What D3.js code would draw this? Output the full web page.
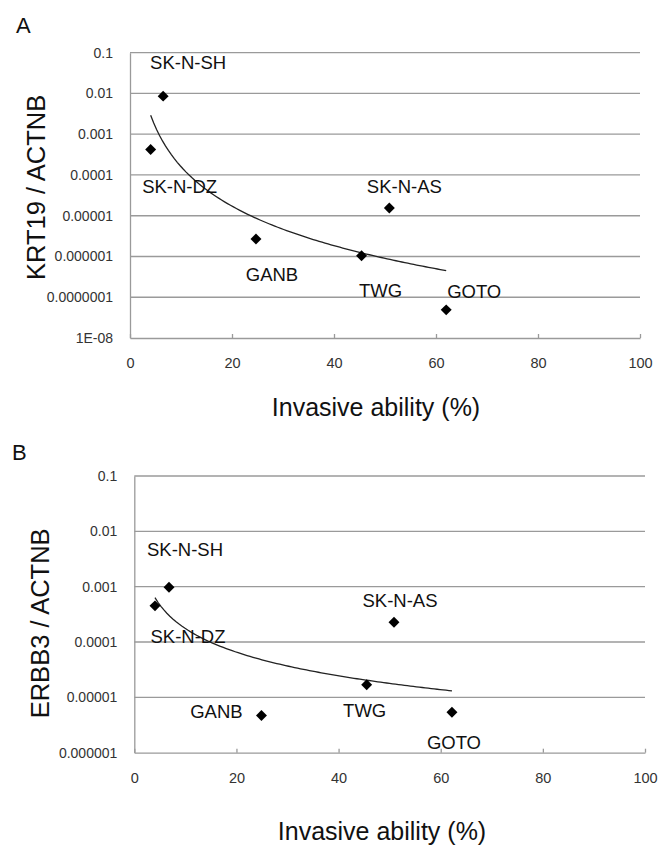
<!DOCTYPE html>
<html>
<head>
<meta charset="utf-8">
<script src="https://cdn.jsdelivr.net/npm/d3@7"></script>
<style>
  body { margin: 0; background: #fff; }
  text { font-family: Arial, "Liberation Sans", sans-serif; }
</style>
</head>
<body>
<div class="canvas"></div>
<script>
// data
const cellLines = ['SK-N-SH', 'SK-N-DZ', 'GANB', 'SK-N-AS', 'TWG', 'GOTO'];
const invasionA = [6.5, 4.05, 24.7, 50.85, 45.4, 62.0];
const krt19 = [0.0086, 0.00042, 0.0000027, 0.0000155, 0.00000104, 0.000000049];
const invasionB = [6.8, 4.05, 24.9, 50.85, 45.5, 62.2];
const erbb3 = [0.00098, 0.00045, 0.0000047, 0.000227, 0.0000169, 0.0000054];

const xTicks = [0, 20, 40, 60, 80, 100];
const yTicksA = [0.1, 0.01, 0.001, 0.0001, 0.00001, 0.000001, 0.0000001, 0.00000001];
const yTickLabelsA = ['0.1', '0.01', '0.001', '0.0001', '0.00001', '0.000001', '0.0000001', '1E-08'];
const yTicksB = [0.1, 0.01, 0.001, 0.0001, 0.00001, 0.000001];
const yTickLabelsB = ['0.1', '0.01', '0.001', '0.0001', '0.00001', '0.000001'];

// label offsets (px) from each marker, per panel
const labelOffsetA = [[25, -27], [29, 43], [16, 42], [15, -15], [19, 41], [28, -12]];
const labelOffsetB = [[16, -31], [33, 37], [-45, 2], [6, -15], [-2, 32], [2, 37]];

const svg = d3.select('.canvas')
	.append('svg')
	.attr('width', 672)
	.attr('height', 845);

// power trendline, least squares on log-log like Excel
const powerFit = (xs, ys) => {
	const lx = xs.map(Math.log), ly = ys.map(Math.log);
	const mx = d3.mean(lx), my = d3.mean(ly);
	const b = d3.sum(lx, (v, i) => (v - mx) * (ly[i] - my)) / d3.sum(lx, v => (v - mx) ** 2);
	const a = Math.exp(my - b * mx);
	return x => a * Math.pow(x, b);
};

const drawPanel = (opt) => {
	const x = d3.scaleLinear().domain([0, 100]).range([opt.left, opt.right]);
	const y = d3.scaleLog().domain(opt.yDomain).range([opt.bottom, opt.top]);
	const g = svg.append('g');

	// gridlines
	g.selectAll('line.grid')
		.data(opt.yTicks.slice(0, -1))
		.enter().append('line')
		.attr('class', 'grid')
		.attr('x1', opt.left).attr('x2', opt.right)
		.attr('y1', d => y(d)).attr('y2', d => y(d))
		.attr('stroke', '#9a9a9a')
		.attr('stroke-width', 1.3);

	// y axis
	const yAxis = d3.axisLeft(y)
		.tickValues(opt.yTicks)
		.tickSize(0)
		.tickPadding(17)
		.tickFormat((d, i) => opt.yLabels[i]);
	const yg = g.append('g')
		.attr('transform', `translate(${opt.left},0)`)
		.call(yAxis);
	yg.select('.domain').attr('stroke', '#9a9a9a').attr('stroke-width', 1.3);
	yg.selectAll('text')
		.attr('font-size', 14)
		.attr('font-family', 'Arial, "Liberation Sans", sans-serif')
		.attr('fill', '#333');

	// x axis, ticks pointing up into the plot
	const xAxis = d3.axisBottom(x)
		.tickValues(xTicks)
		.tickSizeInner(-4)
		.tickSizeOuter(0)
		.tickPadding(20);
	const xg = g.append('g')
		.attr('transform', `translate(0,${opt.bottom})`)
		.call(xAxis);
	xg.select('.domain').attr('stroke', '#9a9a9a').attr('stroke-width', 1.3);
	xg.selectAll('.tick line').attr('stroke', '#9a9a9a').attr('stroke-width', 1.3);
	xg.selectAll('text')
		.attr('font-size', 14.5)
		.attr('font-family', 'Arial, "Liberation Sans", sans-serif')
		.attr('fill', '#333');

	// trendline
	const fit = powerFit(opt.xs, opt.ys);
	const xMin = d3.min(opt.xs), xMax = d3.max(opt.xs);
	const samples = d3.range(0, 101).map(i => xMin + (xMax - xMin) * i / 100);
	g.append('path')
		.datum(samples)
		.attr('fill', 'none')
		.attr('stroke', '#222')
		.attr('stroke-width', 1.3)
		.attr('d', d3.line().x(d => x(d)).y(d => y(fit(d))));

	// markers
	const pts = cellLines.map((name, i) => ({ name, x: opt.xs[i], y: opt.ys[i], off: opt.offsets[i] }));
	g.selectAll('path.pt')
		.data(pts)
		.enter().append('path')
		.attr('class', 'pt')
		.attr('d', d3.symbol(d3.symbolSquare, 60))
		.attr('transform', d => `translate(${x(d.x)},${y(d.y)}) rotate(45)`)
		.attr('fill', '#000');

	g.selectAll('text.lbl')
		.data(pts)
		.enter().append('text')
		.attr('class', 'lbl')
		.attr('x', d => x(d.x) + d.off[0])
		.attr('y', d => y(d.y) + d.off[1])
		.attr('text-anchor', 'middle')
		.attr('font-size', 18.5)
		.attr('fill', '#111')
		.text(d => d.name);

	// titles
	g.append('text')
		.attr('transform', `translate(${opt.yTitleX},${(opt.top + opt.bottom) / 2 + opt.yTitleDy}) rotate(-90)`)
		.attr('text-anchor', 'middle')
		.attr('font-size', 25.5)
		.attr('fill', '#111')
		.text(opt.yTitle);

	g.append('text')
		.attr('x', opt.xTitleX)
		.attr('y', opt.xTitleY)
		.attr('text-anchor', 'middle')
		.attr('font-size', 25)
		.attr('fill', '#111')
		.text('Invasive ability (%)');

	g.append('text')
		.attr('x', opt.panelX)
		.attr('y', opt.panelY)
		.attr('font-size', 22)
		.attr('fill', '#111')
		.text(opt.panel);
};

drawPanel({
	panel: 'A', panelX: 16, panelY: 33,
	left: 130, right: 640, top: 52.7, bottom: 338,
	yDomain: [1e-8, 0.1], yTicks: yTicksA, yLabels: yTickLabelsA,
	xs: invasionA, ys: krt19, offsets: labelOffsetA,
	yTitle: 'KRT19 / ACTNB', yTitleX: 45, yTitleDy: -8,
	xTitleX: 376, xTitleY: 416
});

drawPanel({
	panel: 'B', panelX: 12, panelY: 460,
	left: 134.3, right: 645, top: 476, bottom: 752.7,
	yDomain: [1e-6, 0.1], yTicks: yTicksB, yLabels: yTickLabelsB,
	xs: invasionB, ys: erbb3, offsets: labelOffsetB,
	yTitle: 'ERBB3 / ACTNB', yTitleX: 49, yTitleDy: 9,
	xTitleX: 382, xTitleY: 840
});
</script>
</body>
</html>
